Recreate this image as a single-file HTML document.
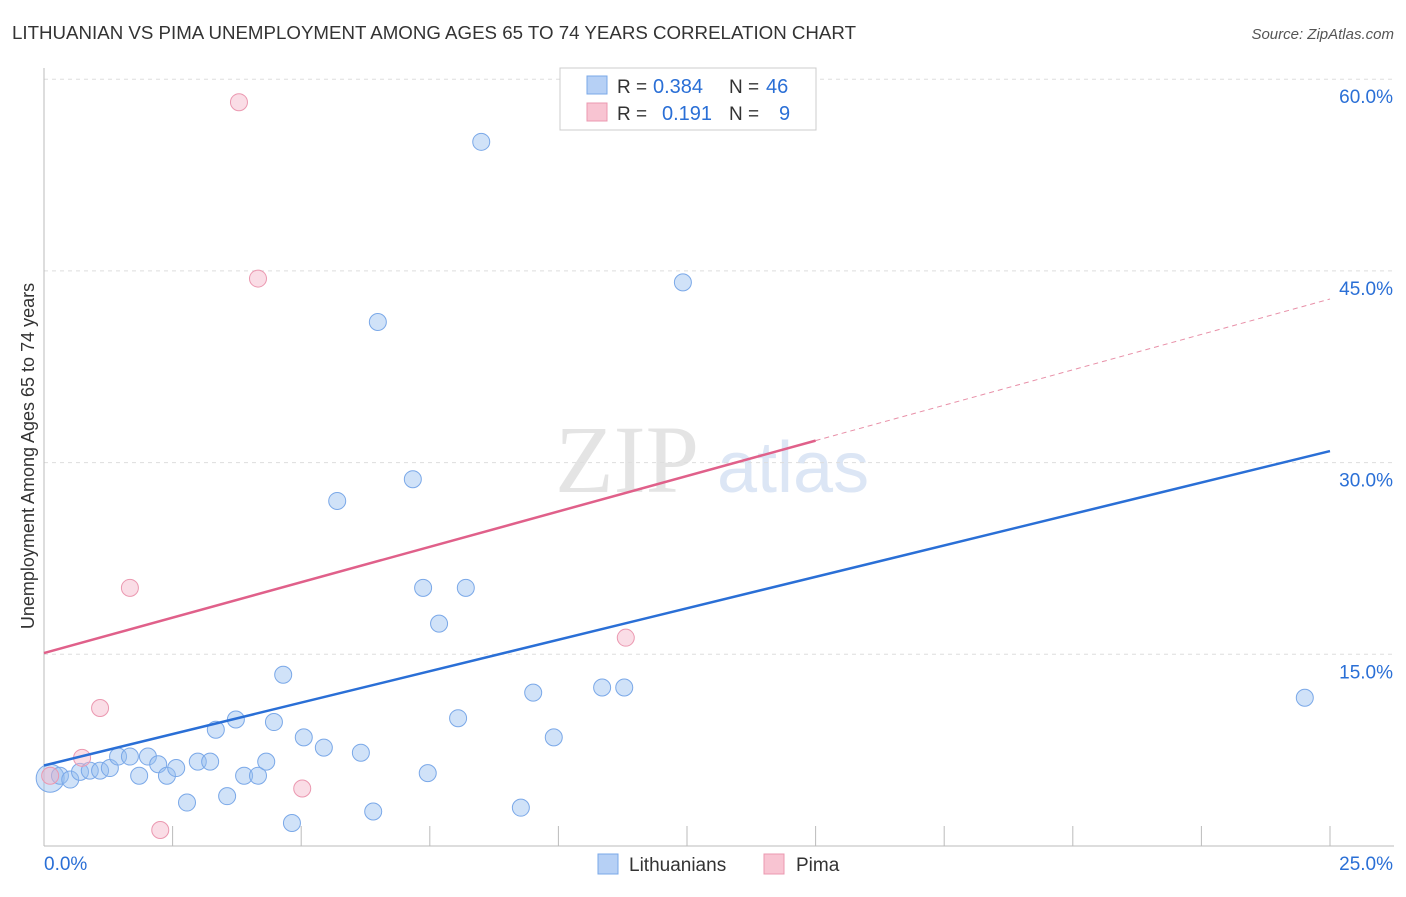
<!DOCTYPE html>
<html><head><meta charset="utf-8"><style>
body{margin:0;background:#fff;font-family:"Liberation Sans",sans-serif;}
</style></head><body>
<svg id="c" width="1406" height="892" xmlns="http://www.w3.org/2000/svg">
<text x="12" y="39" font-size="18" fill="#333" textLength="844" lengthAdjust="spacingAndGlyphs">LITHUANIAN VS PIMA UNEMPLOYMENT AMONG AGES 65 TO 74 YEARS CORRELATION CHART</text>
<text x="1394" y="39" font-size="15" fill="#555" font-style="italic" text-anchor="end">Source: ZipAtlas.com</text>
<text x="555" y="492" font-size="96" fill="#e4e4e4" font-family="Liberation Serif">ZIP</text>
<text x="717" y="492" font-size="72" fill="#dce6f5">atlas</text>
<text transform="translate(34,456) rotate(-90)" font-size="18" fill="#333" text-anchor="middle">Unemployment Among Ages 65 to 74 years</text>
<g id="grid"></g><g id="marks"></g>
<g>
<rect x="560" y="68" width="256" height="62" fill="#fff" stroke="#ccc"/>
<rect x="587" y="76" width="20" height="18" fill="#b6d0f5" stroke="#7aa8e8"/>
<text x="617" y="93" font-size="19" fill="#333">R =</text>
<text x="653" y="93" font-size="20" fill="#2a6fd6">0.384</text>
<text x="729" y="93" font-size="19" fill="#333">N =</text>
<text x="766" y="93" font-size="20" fill="#2a6fd6">46</text>
<rect x="587" y="103" width="20" height="18" fill="#f8c4d2" stroke="#eb98b0"/>
<text x="617" y="120" font-size="19" fill="#333">R =</text>
<text x="662" y="120" font-size="20" fill="#2a6fd6">0.191</text>
<text x="729" y="120" font-size="19" fill="#333">N =</text>
<text x="779" y="120" font-size="20" fill="#2a6fd6">9</text>
</g>
<g>
<rect x="598" y="854" width="20" height="20" fill="#b6d0f5" stroke="#7aa8e8"/>
<text x="629" y="871" font-size="19" fill="#333">Lithuanians</text>
<rect x="764" y="854" width="20" height="20" fill="#f8c4d2" stroke="#eb98b0"/>
<text x="796" y="871" font-size="19" fill="#333">Pima</text>
</g>
</svg>
<script>
const blueX=[0.12,0.31,0.51,0.70,0.89,1.09,1.28,1.44,1.67,1.85,2.02,2.22,2.39,2.57,2.78,2.99,3.23,3.34,3.56,3.73,3.89,4.16,4.32,4.47,4.65,4.82,5.05,5.44,5.70,6.16,6.40,6.49,7.17,7.37,7.46,7.68,8.05,8.20,8.50,9.27,9.51,9.91,10.85,11.28,12.42,24.51];
const blueY=[5.3,5.5,5.2,5.8,5.9,5.9,6.1,7.0,7.0,5.5,7.0,6.4,5.5,6.1,3.4,6.6,6.6,9.1,3.9,9.9,5.5,5.5,6.6,9.7,13.4,1.8,8.5,7.7,27.0,7.3,2.7,41.0,28.7,20.2,5.7,17.4,10.0,20.2,55.1,3.0,12.0,8.5,12.4,12.4,44.1,11.6];
const pinkX=[0.12,0.74,1.09,1.67,2.26,3.79,4.16,5.02,11.31];
const pinkY=[5.5,6.9,10.8,20.2,1.25,58.2,44.4,4.5,16.3];
const blueTrend=[6.3,30.9];
const pinkTrend=[15.1,42.8];
const xTicks=[0,2.5,5,7.5,10,12.5,15,17.5,20,22.5,25];
const yTicks=[15,30,45,60];
const NS='http://www.w3.org/2000/svg';
const X=v=>44+v*51.44, Y=v=>846-v*12.78;
function mk(tag,attrs,parent){const e=document.createElementNS(NS,tag);for(const k in attrs)e.setAttribute(k,attrs[k]);parent.appendChild(e);return e;}
const g=document.getElementById('grid'), m=document.getElementById('marks');
yTicks.forEach(t=>{
  const l=mk('line',{x1:44,x2:1394,y1:Y(t),y2:Y(t),stroke:'#ddd','stroke-dasharray':'4,4'},g);
  
  
  const tx=mk('text',{x:1393,y:Y(t)+24,'font-size':19,fill:'#2a6fd6','text-anchor':'end'},g);
  tx.textContent=t.toFixed(1)+'%';
  
  
});
mk('line',{x1:44,x2:44,y1:68,y2:846,stroke:'#bbb'},g);
mk('line',{x1:44,x2:1394,y1:846,y2:846,stroke:'#bbb'},g);
xTicks.forEach(t=>{
  const l=mk('line',{x1:X(t),x2:X(t),y1:826,y2:846,stroke:'#bbb'},g);
  
  
});
[[0,'0.0%',44,'start'],[25,'25.0%',1393,'end']].forEach(a=>{
  const tx=mk('text',{x:a[2],y:870,'font-size':19,fill:'#2a6fd6','text-anchor':a[3]},g);
  tx.textContent=a[1];
  
  
});
blueX.forEach((x,i)=>{
  const c=mk('circle',{cx:X(x),cy:Y(blueY[i]),r:i===0?14:8.5,fill:'rgba(150,190,240,0.45)',stroke:'#7aa8e8','stroke-width':1},m);
  
  
});
pinkX.forEach((x,i)=>{
  const c=mk('circle',{cx:X(x),cy:Y(pinkY[i]),r:8.5,fill:'rgba(245,180,200,0.45)',stroke:'#eb98b0','stroke-width':1},m);
  
  
});
const pt=v=>pinkTrend[0]+(pinkTrend[1]-pinkTrend[0])*v/25;
let l1=mk('line',{x1:X(0),y1:Y(blueTrend[0]),x2:X(25),y2:Y(blueTrend[1]),stroke:'#2a6fd6','stroke-width':2.5},m);


let l2=mk('line',{x1:X(0),y1:Y(pt(0)),x2:X(15),y2:Y(pt(15)),stroke:'#e0608a','stroke-width':2.5},m);


let l3=mk('line',{x1:X(15),y1:Y(pt(15)),x2:X(25),y2:Y(pt(25)),stroke:'#e890a8','stroke-width':1,'stroke-dasharray':'5,4'},m);


</script>
</body></html>
